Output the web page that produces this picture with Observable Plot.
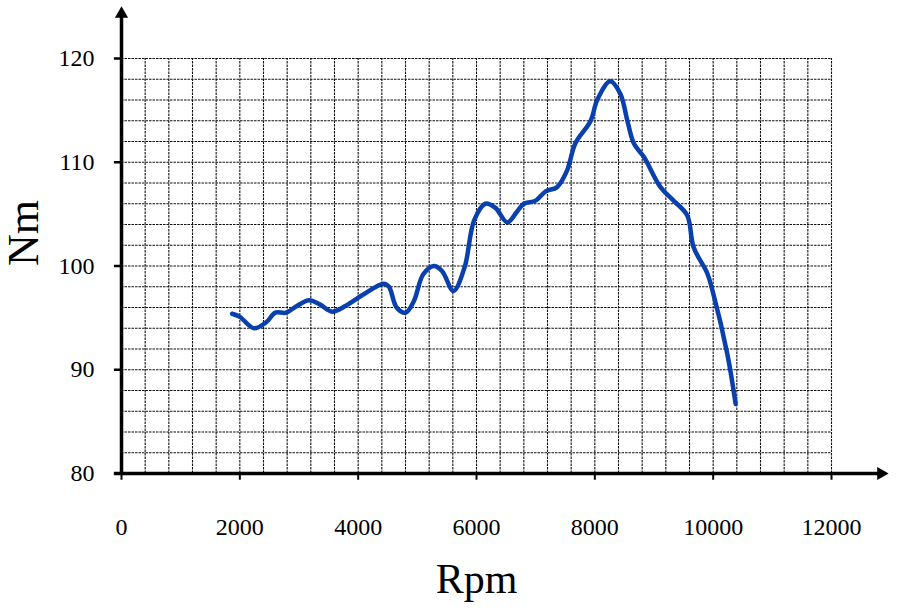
<!DOCTYPE html>
<html>
<head>
<meta charset="utf-8">
<script src="https://cdn.jsdelivr.net/npm/d3@7"></script>
<script src="https://cdn.jsdelivr.net/npm/@observablehq/plot@0.6"></script>
<style>
  body { margin: 0; background: #fff; }
</style>
</head>
<body>
<div id="chart"></div>
<script>
// torque curve
const rpm = [1870, 2000, 2240, 2450, 2600, 2780, 2950, 3170, 3350, 3560, 3800, 4100, 4430, 4520,
  4650, 4800, 4940, 5100, 5280, 5420, 5610, 5800, 5960, 6150, 6320, 6520, 6680, 6800, 7000,
  7170, 7360, 7530, 7670, 7930, 8040, 8260, 8430, 8550, 8660, 8830, 9110, 9330, 9560, 9670,
  9900, 9990, 10240, 10380];
const torque = [95.4, 95.1, 94.0, 94.6, 95.5, 95.5, 96.1, 96.7, 96.3, 95.6, 96.2, 97.3, 98.3, 98.0,
  96.0, 95.5, 96.6, 99.2, 100.0, 99.5, 97.6, 99.9, 104.4, 106.0, 105.6, 104.2, 105.2, 106.0, 106.3,
  107.2, 107.6, 109.2, 111.8, 114.0, 116.0, 117.8, 116.6, 114.0, 111.8, 110.5, 107.6, 106.3, 104.9, 101.8,
  99.3, 97.6, 91.5, 86.7];

const xTicks = [0, 2000, 4000, 6000, 8000, 10000, 12000];
const yTicks = [80, 90, 100, 110, 120];
const xGrid = d3.range(400, 12001, 400);
const yGrid = d3.range(82, 121, 2);
const xArrowAt = 12837;   // where the axis arrows sit
const yArrowAt = 124.3;

const data = rpm.map((r, i) => ({rpm: r, nm: torque[i]}));

const gridStyle = {stroke: "#111", strokeWidth: 1.1, strokeDasharray: "2.5,1"};

const chart = Plot.plot({
  width: 918,
  height: 611,
  marginLeft: 121,
  marginRight: 87,
  marginTop: 58,
  marginBottom: 138,
  style: {fontFamily: "'Liberation Serif', 'Times New Roman', serif", background: "#fff"},
  x: {type: "linear", domain: [0, 12000], axis: null},
  y: {type: "linear", domain: [80, 120], axis: null},
  marks: [
    Plot.ruleX(xGrid, {x: d => d, y1: 80, y2: 120, ...gridStyle}),
    Plot.ruleY(yGrid, {y: d => d, x1: 0, x2: 12000, ...gridStyle}),
    // axes with arrow heads
    Plot.ruleY([80], {x1: -120, x2: xArrowAt, stroke: "#000", strokeWidth: 3.5}),
    Plot.ruleX([0], {y1: 79.8, y2: yArrowAt, stroke: "#000", strokeWidth: 3.5}),
    Plot.dot([[xArrowAt, 80]], {x: d => d[0], y: d => d[1], symbol: "triangle", r: 4.9, fill: "#000", stroke: null, rotate: 90}),
    Plot.dot([[0, yArrowAt]], {x: d => d[0], y: d => d[1], symbol: "triangle", r: 4.9, fill: "#000", stroke: null}),
    // tick marks
    Plot.ruleX(xTicks, {x: d => d, y1: 80, y2: 79.35, stroke: "#000", strokeWidth: 2}),
    Plot.ruleY(yTicks, {y: d => d, x1: -120, x2: 0, stroke: "#000", strokeWidth: 2.5}),
    // tick labels
    Plot.text(xTicks, {x: d => d, frameAnchor: "bottom", dy: 54, lineAnchor: "middle",
      text: d => String(d), fontSize: 24, fill: "#000"}),
    Plot.text(yTicks, {y: d => d, frameAnchor: "left", dx: -27, textAnchor: "end",
      text: d => String(d), fontSize: 24, fill: "#000"}),
    // axis titles
    Plot.text(["Rpm"], {frameAnchor: "bottom", dy: 106, lineAnchor: "middle", text: d => d,
      fontSize: 42, fill: "#000"}),
    Plot.text(["Nm"], {frameAnchor: "left", dx: -98, rotate: -90, lineAnchor: "middle", text: d => d,
      fontSize: 44, fill: "#000"}),
    // torque line
    Plot.line(data, {x: "rpm", y: "nm", stroke: "#0a3fae", strokeWidth: 4.5, curve: "catmull-rom"})
  ]
});

document.getElementById("chart").append(chart);
</script>
</body>
</html>
